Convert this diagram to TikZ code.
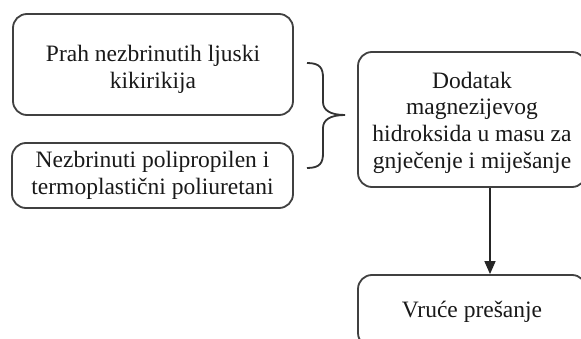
\documentclass[tikz,border=0pt]{standalone}
\usepackage{fontspec}
\setmainfont{Liberation Serif}
\usetikzlibrary{arrows.meta}
\newcommand\boxlines[2]{\raisebox{#1}[\height][\depth]{\begin{tabular}{@{}c@{}}#2\end{tabular}}}
\tikzset{
  stepbox/.style={draw=black!75, line width=1.8pt, rounded corners=14pt,
    inner sep=0pt, font=\fontsize{23.5}{26.8}\selectfont, text=black!90},
  flowarrow/.style={draw=black!85, line width=1.6pt, -{Triangle[length=13pt,width=11pt]}},
  bracestyle/.style={draw=black!80, line width=1.8pt}
}
\begin{document}
\begin{tikzpicture}[x=1pt,y=-1pt]
\useasboundingbox (0,0) rectangle (581,339);
\clip (0,0) rectangle (581,339);
\fill[white] (0,0) rectangle (581,339);
\node[stepbox, minimum width=280pt, minimum height=101pt] (b1) at (153,64.5)
  {\boxlines{-5pt}{Prah nezbrinutih ljuski\\kikirikija}};
\node[stepbox, minimum width=281pt, minimum height=65pt] (b2) at (152.5,175.5)
  {\boxlines{-0.5pt}{Nezbrinuti polipropilen i\\termoplastični poliuretani}};
\node[stepbox, minimum width=228pt, minimum height=135pt] (b3) at (472,119.5)
  {\boxlines{-3.5pt}{Dodatak\\magnezijevog\\hidroksida u masu za\\gnječenje i miješanje}};
\node[stepbox, minimum width=228pt, minimum height=72pt] (b4) at (472,311)
  {\boxlines{-1.5pt}{Vruće prešanje}};
\coordinate (ax) at (490,0);
\draw[flowarrow] (b3.south -| ax) -- (b4.north -| ax);
\coordinate (brTop) at (307,63);
\coordinate (brTip) at (345,115);
\coordinate (brBot) at (307,168);
\draw[bracestyle] (brTop) .. controls (320,63) and (323,68) .. (323,78) -- (323,102)
  .. controls (323,110) and (330,115) .. (brTip)
  .. controls (330,115) and (323,120) .. (323,128) -- (323,153)
  .. controls (323,163) and (320,168) .. (brBot);
\end{tikzpicture}
\end{document}
